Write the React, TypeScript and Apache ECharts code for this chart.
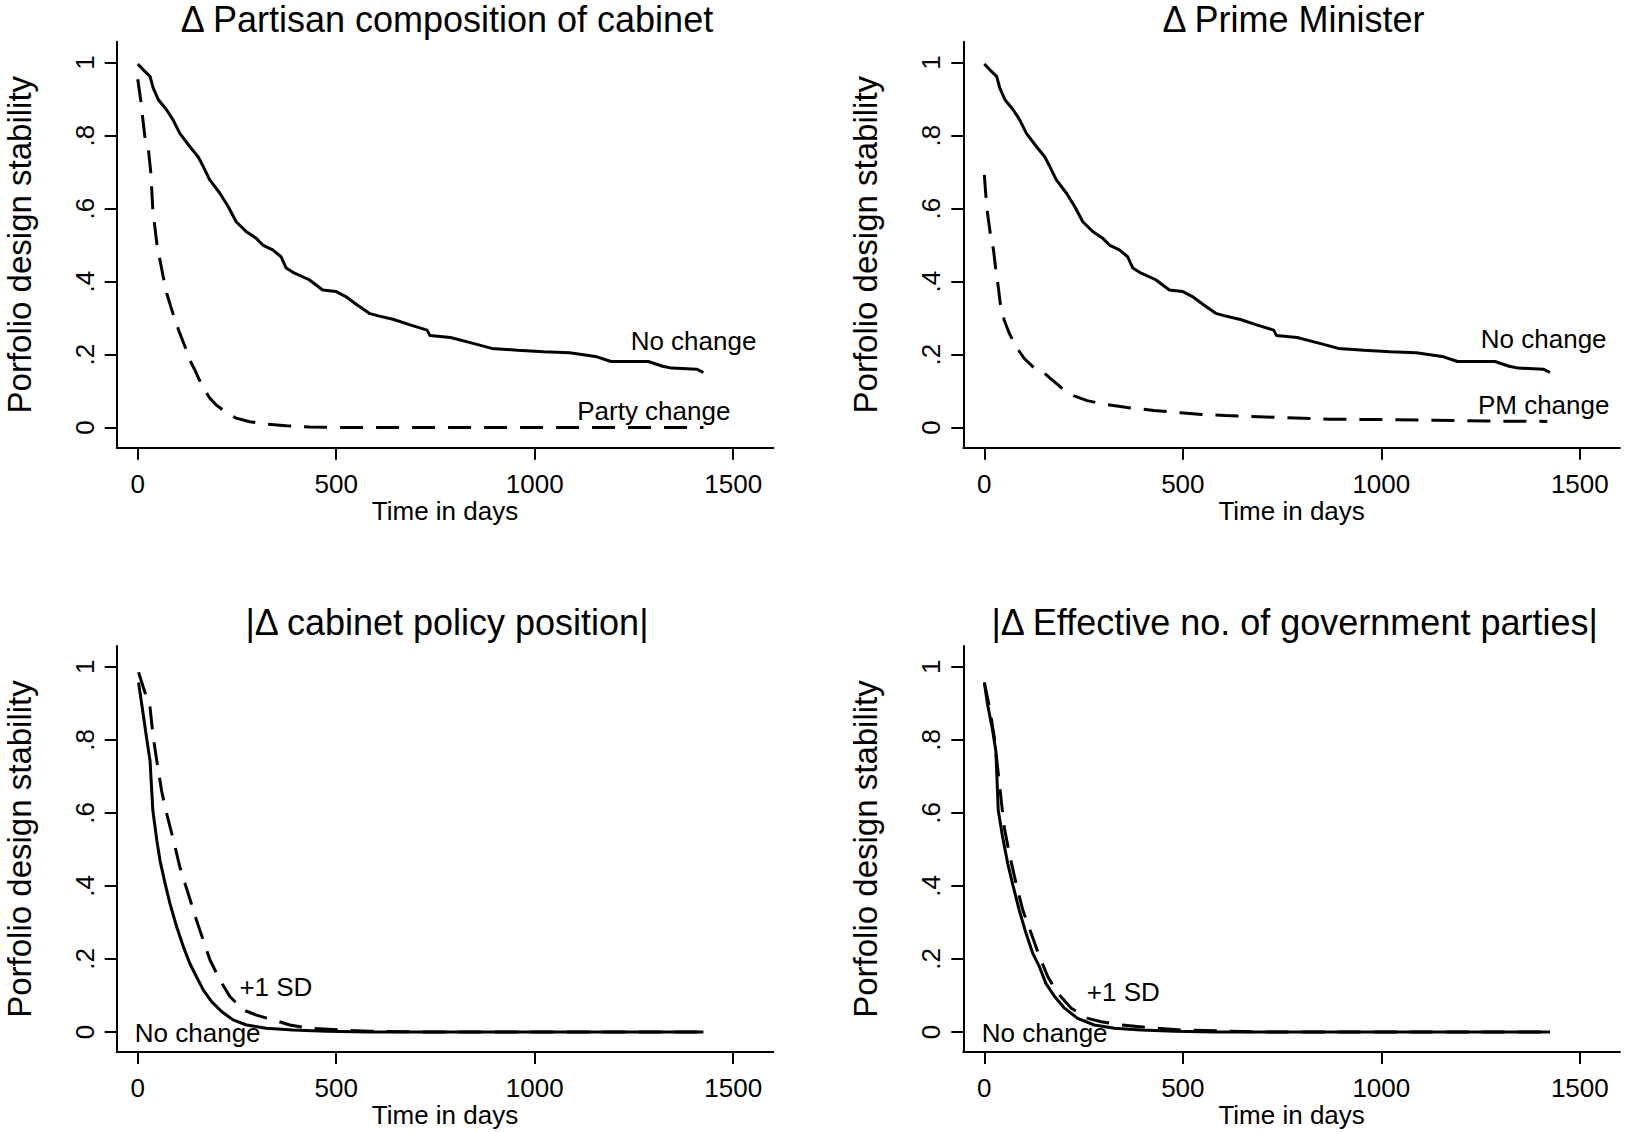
import React, { useEffect, useRef } from "react";
import * as echarts from "echarts";

// ---------- data ----------
const xTicks = [0, 500, 1000, 1500];
const yTicks = [0, 0.2, 0.4, 0.6, 0.8, 1];
const xAxisTitle = "Time in days";
const yAxisTitle = "Porfolio design stability";
const panelTitles = [
  "\u0394 Partisan composition of cabinet",
  "\u0394 Prime Minister",
  "|\u0394 cabinet policy position|",
  "|\u0394 Effective no. of government parties|",
];

// baseline survival (no change) — same curve in both top panels
const noChangeTop: [number, number][] = [
  [0, 0.996], [14, 0.98], [31, 0.962], [39, 0.93], [52, 0.898], [73, 0.87],
  [89, 0.843], [106, 0.806], [131, 0.77], [152, 0.742], [165, 0.715],
  [181, 0.679], [207, 0.642], [228, 0.605], [248, 0.564], [273, 0.537],
  [298, 0.519], [315, 0.5], [340, 0.487], [361, 0.468], [374, 0.437],
  [395, 0.423], [432, 0.405], [466, 0.377], [499, 0.373], [524, 0.359],
  [553, 0.336], [583, 0.313], [606, 0.306], [645, 0.296], [684, 0.282],
  [729, 0.267], [736, 0.252], [788, 0.247], [840, 0.232], [892, 0.217],
  [957, 0.212], [1022, 0.208], [1088, 0.205], [1153, 0.195], [1192, 0.181],
  [1286, 0.181], [1322, 0.168], [1345, 0.163], [1408, 0.16], [1425, 0.151],
];

const partyChange: [number, number][] = [
  [0, 0.954], [8, 0.893], [12, 0.852], [18, 0.797], [27, 0.761], [33, 0.697],
  [38, 0.596], [43, 0.551], [49, 0.496], [56, 0.459], [64, 0.414], [73, 0.368],
  [83, 0.332], [94, 0.295], [106, 0.258], [119, 0.222], [131, 0.185],
  [144, 0.158], [155, 0.131], [169, 0.103], [182, 0.08], [198, 0.062],
  [223, 0.041], [248, 0.026], [282, 0.016], [324, 0.01], [374, 0.005],
  [432, 0.002], [516, 0], [1425, 0],
];

const pmChange: [number, number][] = [
  [0, 0.692], [4, 0.633], [8, 0.587], [15, 0.532], [23, 0.487], [29, 0.432],
  [35, 0.386], [40, 0.341], [50, 0.295], [63, 0.258], [80, 0.222],
  [100, 0.19], [126, 0.163], [151, 0.149], [176, 0.126], [201, 0.103],
  [226, 0.087], [259, 0.074], [301, 0.064], [360, 0.055], [427, 0.047],
  [494, 0.041], [548, 0.036], [608, 0.033], [739, 0.028], [870, 0.023],
  [1000, 0.022], [1131, 0.02], [1262, 0.018], [1418, 0.017],
];

const policyNoChange: [number, number][] = [
  [2, 0.957], [10, 0.898], [22, 0.807], [31, 0.743], [38, 0.607], [48, 0.525],
  [56, 0.47], [69, 0.406], [81, 0.352], [98, 0.288], [115, 0.233],
  [131, 0.188], [148, 0.151], [165, 0.115], [186, 0.083], [211, 0.056],
  [240, 0.033], [274, 0.019], [324, 0.01], [391, 0.005], [475, 0.002],
  [584, 0], [1425, 0],
];

const policyPlusSD: [number, number][] = [
  [2, 0.985], [14, 0.944], [31, 0.889], [39, 0.807], [48, 0.743], [60, 0.661],
  [73, 0.597], [90, 0.525], [106, 0.452], [127, 0.379], [148, 0.306],
  [165, 0.251], [182, 0.197], [207, 0.142], [232, 0.097], [266, 0.06],
  [299, 0.046], [341, 0.033], [383, 0.019], [433, 0.01], [517, 0.005],
  [584, 0.002], [700, 0], [1425, 0],
];

const effNoChange: [number, number][] = [
  [0, 0.957], [8, 0.898], [21, 0.825], [29, 0.77], [35, 0.607], [46, 0.534],
  [59, 0.461], [71, 0.406], [88, 0.333], [105, 0.27], [122, 0.215],
  [139, 0.178], [155, 0.133], [177, 0.097], [202, 0.065], [235, 0.037],
  [277, 0.019], [328, 0.01], [395, 0.005], [479, 0.002], [580, 0], [1425, 0],
];

const effPlusSD: [number, number][] = [
  [0, 0.957], [13, 0.889], [25, 0.807], [38, 0.679], [50, 0.561], [63, 0.488],
  [80, 0.406], [97, 0.333], [118, 0.27], [139, 0.206], [160, 0.151],
  [185, 0.106], [219, 0.065], [261, 0.037], [294, 0.028], [345, 0.019],
  [412, 0.012], [496, 0.005], [580, 0.003], [700, 0], [1425, 0],
];

// curve labels, placed in data coordinates [days, stability]
const labelsTL = [
  { text: "No change", at: [1400, 0.237] },
  { text: "Party change", at: [1300, 0.046] },
];
const labelsTR = [
  { text: "No change", at: [1409, 0.242] },
  { text: "PM change", at: [1409, 0.062] },
];
const labelsBL = [
  { text: "+1 SD", at: [348, 0.124] },
  { text: "No change", at: [151, -0.002] },
];
const labelsBR = [
  { text: "+1 SD", at: [350, 0.11] },
  { text: "No change", at: [152, -0.004] },
];

// ---------- layout / style ----------
const FONT = '"Liberation Sans", Arial, Helvetica, sans-serif';
const W = 1625;
const H = 1132;
const gridBoxes = [
  { left: 116.7, top: 41.7 },
  { left: 963.3, top: 41.7 },
  { left: 116.7, top: 646 },
  { left: 963.3, top: 646 },
];
const GRID_W = 656.6;
const GRID_H = 406;
const titleCenters = [
  [447, 19],
  [1293.5, 19],
  [447, 622.5],
  [1294.6, 622.5],
];

const panels = [
  { solid: noChangeTop, dashed: partyChange, labels: labelsTL, sName: "No change", dName: "Party change" },
  { solid: noChangeTop, dashed: pmChange, labels: labelsTR, sName: "No change", dName: "PM change" },
  { solid: policyNoChange, dashed: policyPlusSD, labels: labelsBL, sName: "No change", dName: "+1 SD" },
  { solid: effNoChange, dashed: effPlusSD, labels: labelsBR, sName: "No change", dName: "+1 SD" },
];

function fmtY(v: number): string {
  const r = Math.round(v * 10) / 10;
  if (r === 0) return "0";
  if (r === 1) return "1";
  return String(r).replace(/^0\./, ".");
}

function buildOption() {
  const axisLineStyle = { color: "#000", width: 2 };
  const grid = gridBoxes.map((g) => ({
    left: g.left,
    top: g.top,
    width: GRID_W,
    height: GRID_H,
    containLabel: false,
    outerBoundsMode: "none",
  }));
  const xAxis = gridBoxes.map((_, i) => ({
    type: "value",
    gridIndex: i,
    min: -53,
    max: 1601,
    name: xAxisTitle,
    nameLocation: "middle",
    nameGap: 50,
    nameTextStyle: { color: "#000", fontSize: 26, fontFamily: FONT },
    axisLine: { show: true, onZero: false, lineStyle: axisLineStyle },
    axisTick: { show: true, length: 12, customValues: xTicks, lineStyle: axisLineStyle },
    axisLabel: {
      show: true,
      customValues: xTicks,
      margin: 23,
      color: "#000",
      fontSize: 26,
      fontFamily: FONT,
      formatter: (v: number) => String(Math.round(v)),
    },
    splitLine: { show: false },
  }));
  const yAxis = gridBoxes.map((_, i) => ({
    type: "value",
    gridIndex: i,
    min: -0.055,
    max: 1.057,
    name: yAxisTitle,
    nameLocation: "middle",
    nameGap: 81,
    nameTextStyle: { color: "#000", fontSize: 33, fontFamily: FONT },
    axisLine: { show: true, onZero: false, lineStyle: axisLineStyle },
    axisTick: { show: true, length: 12, customValues: yTicks, lineStyle: axisLineStyle },
    axisLabel: {
      show: true,
      customValues: yTicks,
      rotate: 90,
      margin: 19,
      color: "#000",
      fontSize: 26,
      fontFamily: FONT,
      formatter: (v: number) => fmtY(v),
    },
    splitLine: { show: false },
  }));

  const series: any[] = [];
  panels.forEach((p, i) => {
    series.push({
      type: "line",
      name: p.dName,
      xAxisIndex: i,
      yAxisIndex: i,
      data: p.dashed,
      showSymbol: false,
      symbol: "none",
      lineStyle: { color: "#000", width: 3, type: [23, 13] },
      emphasis: { disabled: true },
      silent: true,
      z: 2,
    });
    series.push({
      type: "line",
      name: p.sName,
      xAxisIndex: i,
      yAxisIndex: i,
      data: p.solid,
      showSymbol: false,
      symbol: "none",
      lineStyle: { color: "#000", width: 3, type: "solid" },
      emphasis: { disabled: true },
      silent: true,
      z: 3,
      markPoint: {
        symbol: "rect",
        symbolSize: 1,
        silent: true,
        itemStyle: { color: "rgba(0,0,0,0)" },
        label: {
          show: true,
          position: "inside",
          color: "#000",
          fontSize: 26,
          fontFamily: FONT,
          formatter: (d: any) => d.name,
        },
        data: p.labels.map((l) => ({ name: l.text, coord: l.at })),
      },
    });
  });

  const graphic = panelTitles.map((t, i) => ({
    type: "text",
    x: titleCenters[i][0],
    y: titleCenters[i][1],
    silent: true,
    style: {
      text: t,
      fill: "#000",
      fontSize: 36,
      fontFamily: FONT,
      align: "center",
      verticalAlign: "middle",
      textAlign: "center",
      textVerticalAlign: "middle",
    },
  }));

  return {
    animation: false,
    backgroundColor: "#fff",
    textStyle: { fontFamily: FONT, color: "#000" },
    grid,
    xAxis,
    yAxis,
    series,
    graphic,
  };
}

export default function App() {
  const ref = useRef<HTMLDivElement | null>(null);
  useEffect(() => {
    document.body.style.margin = "0";
    if (!ref.current) return;
    const chart = echarts.init(ref.current, undefined, { renderer: "svg" });
    chart.setOption(buildOption() as any);
    return () => {
      chart.dispose();
    };
  }, []);
  return (
    <div
      ref={ref}
      style={{ position: "absolute", left: 0, top: 0, width: W, height: H, background: "#fff" }}
    />
  );
}
